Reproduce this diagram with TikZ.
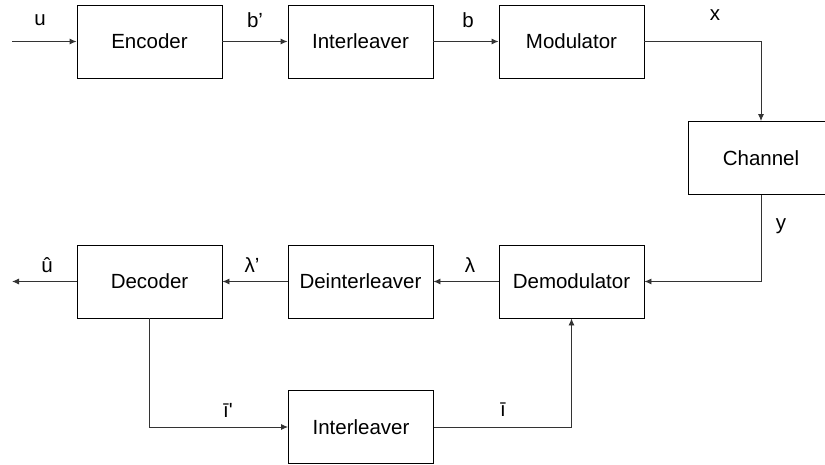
\documentclass[tikz,border=0pt]{standalone}
\usepackage{fontspec}
\setmainfont{Liberation Sans}
\usetikzlibrary{arrows.meta}

\tikzset{
  block/.style={draw, line width=0.9pt, minimum width=145pt, minimum height=73pt, inner sep=0pt, font=\fontsize{20.5}{24}\selectfont},
  lbl/.style={inner sep=0pt, font=\fontsize{20.5}{24}\selectfont},
  flow/.style={draw, line width=0.9pt, color=black!80, -{Latex[length=7pt,width=6pt]}},
}

\begin{document}
\begin{tikzpicture}[x=1pt, y=-1pt]
\useasboundingbox (0,0) rectangle (825,465);

\node[block] (enc) at (149.5,41.5) {Encoder};
\node[block] (il) at (360.5,41.5) {Interleaver};
\node[block] (mod) at (571.5,41.5) {Modulator};
\node[block] (chan) at (761,158) {Channel};
\node[block] (demod) at (571.5,281.5) {Demodulator};
\node[block] (deil) at (360.5,281.5) {Deinterleaver};
\node[block] (dec) at (149.5,281.5) {Decoder};
\node[block] (il2) at (361,427) {Interleaver};

\coordinate (in) at (12,41.5);
\coordinate (out) at (12,281.5);

\node[lbl] (lu) at (40,20) {u};
\node[lbl] (lb1) at (255,20) {b’};
\node[lbl] (lb) at (468,20) {b};
\node[lbl] (lx) at (715,15) {x};
\node[lbl] (ly) at (781,226) {y};
\node[lbl] (llam) at (470,265) {λ};
\node[lbl] (llam1) at (252,265) {λ’};
\node[lbl] (luh) at (47,265) {û};
\node[lbl] (li1) at (228,410) {ī\textquotesingle};
\node[lbl] (li) at (503,410) {ī};

\path[flow] (in) -- (enc);
\path[flow] (enc) -- (il);
\path[flow] (il) -- (mod);
\path[flow] (mod) -| (chan);
\path[flow] (chan) |- (demod);
\path[flow] (demod) -- (deil);
\path[flow] (deil) -- (dec);
\path[flow] (dec) -- (out);
\path[flow] (dec) |- (il2);
\path[flow] (il2) -| (demod);
\end{tikzpicture}
\end{document}
